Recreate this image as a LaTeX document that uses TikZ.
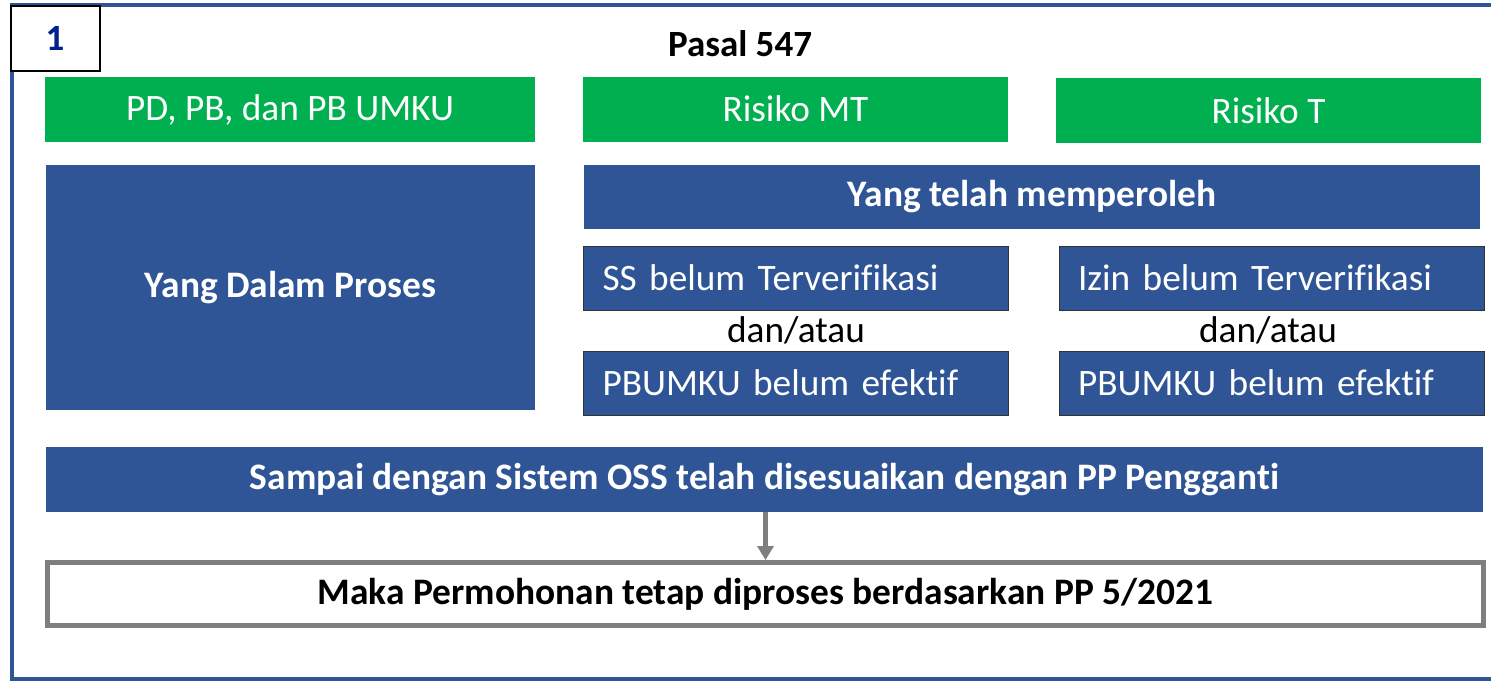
\documentclass[tikz,border=0pt]{standalone}
\usepackage{fontspec}
\setmainfont{Carlito}[Ligatures={NoCommon,NoContextual}]
\usetikzlibrary{arrows.meta}
\definecolor{oblue}{HTML}{2F5597}
\definecolor{ogreen}{HTML}{00B050}
\definecolor{ogray}{HTML}{7F7F7F}
\definecolor{onavy}{HTML}{002090}
\begin{document}
\begin{tikzpicture}[x=1pt,y=-1pt,
    greenbox/.style={rectangle, fill=ogreen, text=white, inner sep=0pt,
      minimum height=65pt, font=\fontsize{37.3}{40}\selectfont},
    bluebox/.style={rectangle, fill=oblue, text=white, inner sep=0pt,
      font=\bfseries\fontsize{37.4}{40}\selectfont},
    itembox/.style={rectangle, draw=black!80, line width=1pt, fill=oblue, text=white,
      minimum height=64pt, inner xsep=19pt, inner ysep=0pt, text width=387pt, align=left,
      font=\fontsize{37.3}{40}\selectfont},
    joiner/.style={font=\fontsize{37.3}{40}\selectfont}]
  \useasboundingbox (0,0) rectangle (1491,681);

  % Outer frame
  \draw[oblue, line width=4pt] (1500,679) -- (12,679) -- (12,5) -- (1500,5);

  % Number and title
  \node[rectangle, draw=black, line width=2pt, fill=white, minimum width=89pt, minimum height=65pt,
    text=onavy, font=\bfseries\fontsize{37}{40}\selectfont] (num) at (55,38) {1};
  \node[font=\bfseries\fontsize{37}{40}\selectfont] (title) at (740,44) {Pasal 547};

  % Green headers
  \node[greenbox, minimum width=490pt] (pdpb) at (290,109.5) {PD, PB, dan PB UMKU};
  \node[greenbox, minimum width=425pt] (mt) at (795.5,109) {Risiko MT};
  \node[greenbox, minimum width=425pt] (t) at (1268.5,110.5) {Risiko T};

  % Blue blocks
  \node[bluebox, minimum width=489pt, minimum height=245pt] (proses) at (290.5,287.5) {Yang Dalam Proses};
  \node[bluebox, minimum width=896pt, minimum height=64pt] (peroleh) at (1032,197) {Yang telah memperoleh};

  % Items under Risiko MT
  \node[itembox] (ss) at (796,278) {SS belum Terverifikasi};
  \node[joiner] (dan1) at (796,330) {dan/atau};
  \node[itembox] (pbmt) at (796,383) {PBUMKU belum efektif};

  % Items under Risiko T
  \node[itembox] (izin) at (1271.5,278) {Izin belum Terverifikasi};
  \node[joiner] (dan2) at (1268,330) {dan/atau};
  \node[itembox] (pbt) at (1271.5,383) {PBUMKU belum efektif};

  % Bottom rows
  \node[bluebox, minimum width=1437pt, minimum height=65pt] (oss) at (764.5,479.5)
    {Sampai dengan Sistem OSS telah disesuaikan dengan PP Pengganti};
  \node[rectangle, draw=ogray, line width=5pt, fill=white, minimum width=1436pt, minimum height=63pt,
    font=\bfseries\fontsize{37.4}{40}\selectfont] (maka) at (765.5,594)
    {Maka Permohonan tetap diproses berdasarkan PP 5/2021};

  % Arrow
  \draw[ogray, line width=5pt, -{Triangle[width=16pt,length=14pt]}] (oss.south -| maka.north) -- (maka.north);
\end{tikzpicture}
\end{document}
